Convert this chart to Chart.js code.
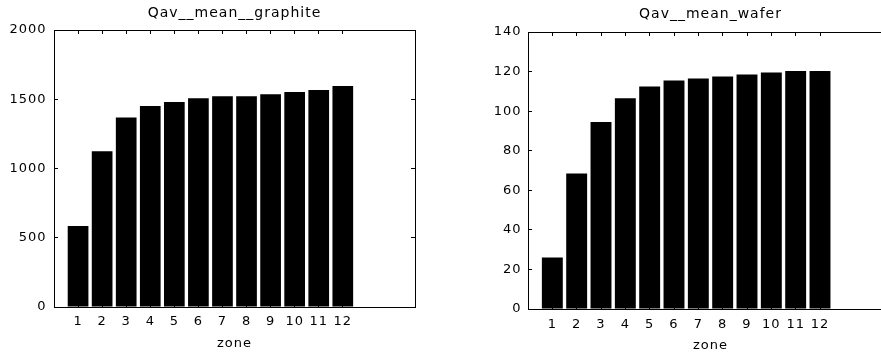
<!DOCTYPE html>
<html>
<head>
<meta charset="utf-8">
<script src="https://cdn.jsdelivr.net/npm/chart.js@4/dist/chart.umd.min.js"></script>
<style>
html, body { margin: 0; padding: 0; background: #fff; overflow: hidden; width: 881px; height: 356px; }
.panel { position: absolute; top: 0; height: 356px; overflow: hidden; }
#leftPanel { left: 0; width: 440px; }
#rightPanel { left: 440px; width: 441px; }
.holder { position: relative; height: 356px; }
#leftPanel .holder { width: 440px; }
#rightPanel .holder { width: 470px; }
canvas { display: block; }
</style>
</head>
<body>
<div class="panel" id="leftPanel"><div class="holder"><canvas id="graphiteChart" width="440" height="356" style="width:440px;height:356px"></canvas></div></div>
<div class="panel" id="rightPanel"><div class="holder"><canvas id="waferChart" width="470" height="356" style="width:470px;height:356px"></canvas></div></div>
<script>
// values
const zones = [1, 2, 3, 4, 5, 6, 7, 8, 9, 10, 11, 12];
const graphite = [585, 1125, 1368, 1452, 1480, 1508, 1522, 1522, 1537, 1552, 1566, 1595];
const wafer = [26, 68.5, 94.5, 106.5, 112.5, 115.5, 116.5, 117.5, 118.5, 119.5, 120.3, 120.3];
const graphiteTicks = [0, 500, 1000, 1500, 2000];
const waferTicks = [0, 20, 40, 60, 80, 100, 120, 140];

Chart.defaults.color = '#000';
Chart.defaults.borderColor = '#000';
Chart.defaults.font.family = "'DejaVu Sans', sans-serif";
Chart.defaults.font.size = 13;

// matlab-ish wide text
const spacing = {
    id: 'spacing',
    beforeDraw(chart) {
        chart.ctx.letterSpacing = '1px';
    }
};

function setTicks(list) {
    return function (scale) {
        scale.ticks = list.map(v => ({ value: v }));
    };
}

function makeChart(id, title, values, yTicks, box) {
    const ctx = document.getElementById(id);
    const yMax = yTicks[yTicks.length - 1];
    // short ticks pointing into the box, no grid
    const inner = {
        display: true,
        drawOnChartArea: false,
        drawTicks: true,
        tickLength: -4,
        offset: false,
        color: '#000'
    };
    const edge = { display: true, color: '#000', width: 1 };
    return new Chart(ctx, {
        type: 'bar',
        data: {
            datasets: [{
                data: zones.map((z, i) => ({ x: z, y: values[i] })),
                backgroundColor: '#000',
                borderWidth: 0,
                barPercentage: 0.86,
                categoryPercentage: 1
            }]
        },
        options: {
            responsive: false,
            animation: false,
            devicePixelRatio: 1,
            layout: { padding: 0 },
            scales: {
                x: {
                    type: 'linear', position: 'bottom', min: 0, max: 15, offset: false,
                    afterBuildTicks: setTicks(zones),
                    afterFit: s => { s.height = box.xHeight; },
                    grid: inner,
                    border: edge,
                    ticks: { padding: box.xPad, maxRotation: 0, autoSkip: false, callback: v => String(v) },
                    title: { display: true, text: 'zone', padding: { top: 0, bottom: box.zonePad } }
                },
                x2: {
                    type: 'linear', position: 'top', min: 0, max: 15, offset: false,
                    afterBuildTicks: setTicks(zones),
                    afterFit: s => { s.height = 0; },
                    grid: inner,
                    border: edge,
                    ticks: { display: false }
                },
                y: {
                    position: 'left', min: 0, max: yMax,
                    afterBuildTicks: setTicks(yTicks),
                    afterFit: s => { s.width = box.left; },
                    grid: inner,
                    border: edge,
                    ticks: { padding: box.yPad, callback: v => String(v) }
                },
                y2: {
                    position: 'right', min: 0, max: yMax,
                    afterBuildTicks: setTicks(yTicks),
                    afterFit: s => { s.width = box.right; },
                    grid: inner,
                    border: edge,
                    ticks: { display: false }
                }
            },
            plugins: {
                legend: { display: false },
                tooltip: { enabled: false },
                title: {
                    display: true, text: title, fullSize: false,
                    font: { size: 14, weight: 'normal' },
                    padding: { top: box.titleTop, bottom: box.titleBottom }
                }
            }
        },
        plugins: [spacing]
    });
}

makeChart('graphiteChart', 'Qav__mean__graphite', graphite, graphiteTicks,
    { left: 54, right: 25, xHeight: 49, xPad: 11, yPad: 11.5, zonePad: 5, titleTop: 4.5, titleBottom: 8.7 });

makeChart('waferChart', 'Qav__mean_wafer', wafer, waferTicks,
    { left: 88, right: 17, xHeight: 47, xPad: 12, yPad: 10.5, zonePad: 3, titleTop: 6, titleBottom: 9.2 });
</script>
</body>
</html>
